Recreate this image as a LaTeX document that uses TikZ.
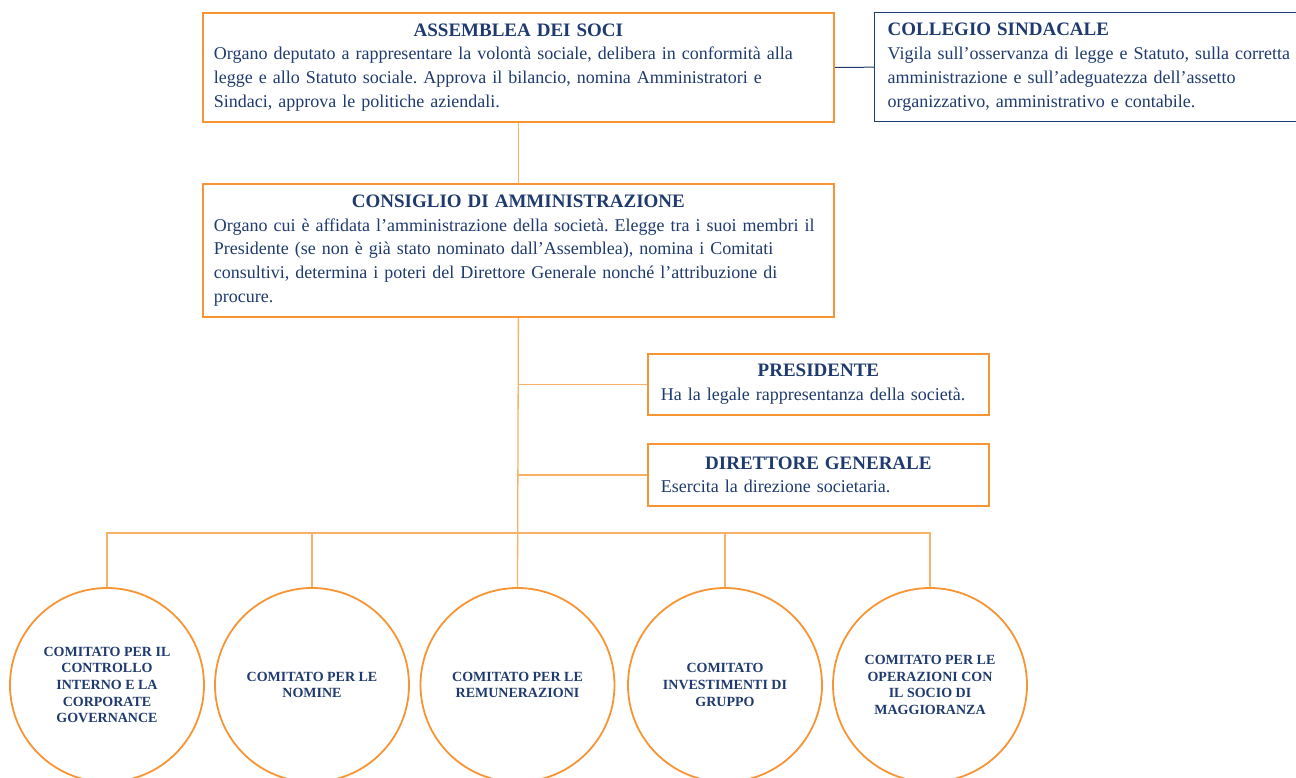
\documentclass[tikz,border=0pt]{standalone}
\usepackage{fontspec}
\setmainfont{Liberation Serif}
\usepackage{xcolor}
\usepackage{tikz}
\definecolor{boxorange}{RGB}{247,148,52}
\definecolor{lineorange}{RGB}{249,176,104}
\definecolor{textblue}{RGB}{31,58,110}
\setlength{\parindent}{0pt}
\frenchspacing
\newcommand{\boxtitle}[1]{{\centering\bfseries\fontsize{19}{23.7}\selectfont #1\par}}

\begin{document}
\begin{tikzpicture}[x=1pt,y=-1pt,
    orgbox/.style={draw=boxorange,line width=1.8pt,text=textblue,anchor=north west,
        inner xsep=13pt,inner ysep=0pt,font=\fontsize{18}{23.7}\selectfont},
    comcircle/.style={draw=boxorange,line width=1.8pt,circle,minimum size=194pt,inner sep=0pt,
        text=textblue,align=center,font=\bfseries\fontsize{14}{16.6}\selectfont},
    orgline/.style={draw=lineorange,line width=1.3pt}]
    \useasboundingbox (0,0) rectangle (1296,778);
    % Top
    \node[orgbox,inner xsep=11pt,text width=609pt,minimum height=109pt] (assemblea) at (202,12)
        {\boxtitle{ASSEMBLEA DEI SOCI}
         Organo deputato a rappresentare la volontà sociale, delibera in conformità alla\\
         legge e allo Statuto sociale. Approva il bilancio, nomina Amministratori e\\
         Sindaci, approva le politiche aziendali.};
    \node[orgbox,draw=textblue,line width=1.4pt,text width=410pt,minimum height=109pt] (collegio) at (874,12)
        {{\bfseries\fontsize{19}{23.7}\selectfont COLLEGIO SINDACALE}\\
         Vigila sull’osservanza di legge e Statuto, sulla corretta\\
         amministrazione e sull’adeguatezza dell’assetto\\
         organizzativo, amministrativo e contabile.};
    \draw[textblue,line width=1pt] (assemblea.east) -- (collegio.west);
    % Middle
    \node[orgbox,inner xsep=11pt,text width=609pt,minimum height=133pt] (consiglio) at (202,183)
        {\boxtitle{CONSIGLIO DI AMMINISTRAZIONE}
         Organo cui è affidata l’amministrazione della società. Elegge tra i suoi membri il\\
         Presidente (se non è già stato nominato dall’Assemblea), nomina i Comitati\\
         consultivi, determina i poteri del Direttore Generale nonché l’attribuzione di\\
         procure.};
    \node[orgbox,text width=315pt,minimum height=61pt] (presidente) at (647,353)
        {\boxtitle{PRESIDENTE}
         Ha la legale rappresentanza della società.};
    \node[orgbox,text width=315pt,minimum height=62pt] (direttore) at (647,443)
        {\boxtitle{DIRETTORE GENERALE}
         Esercita la direzione societaria.};
    % Comitati
    \node[comcircle] (com1) at (107,685) {COMITATO PER IL\\ CONTROLLO\\ INTERNO E LA\\ CORPORATE\\ GOVERNANCE};
    \node[comcircle] (com2) at (312,685) {COMITATO PER LE\\ NOMINE};
    \node[comcircle] (com3) at (517.5,685) {COMITATO PER LE\\ REMUNERAZIONI};
    \node[comcircle] (com4) at (725,685) {COMITATO\\ INVESTIMENTI DI\\ GRUPPO};
    \node[comcircle] (com5) at (930,685) {COMITATO PER LE\\ OPERAZIONI CON\\ IL SOCIO DI\\ MAGGIORANZA};
    % connectors
    \draw[orgline] (assemblea.south) -- (consiglio.north);
    \draw[orgline] (consiglio.south) -- (com3.north);
    \draw[orgline] (presidente.west) -- (presidente.west -| consiglio.south);
    \draw[orgline] (direttore.west) -- (direttore.west -| consiglio.south);
    \coordinate (bus) at (517.5,533);
    \foreach \c in {com1,com2,com4,com5}
        \draw[orgline] (\c.north) |- (bus);
\end{tikzpicture}
\end{document}
